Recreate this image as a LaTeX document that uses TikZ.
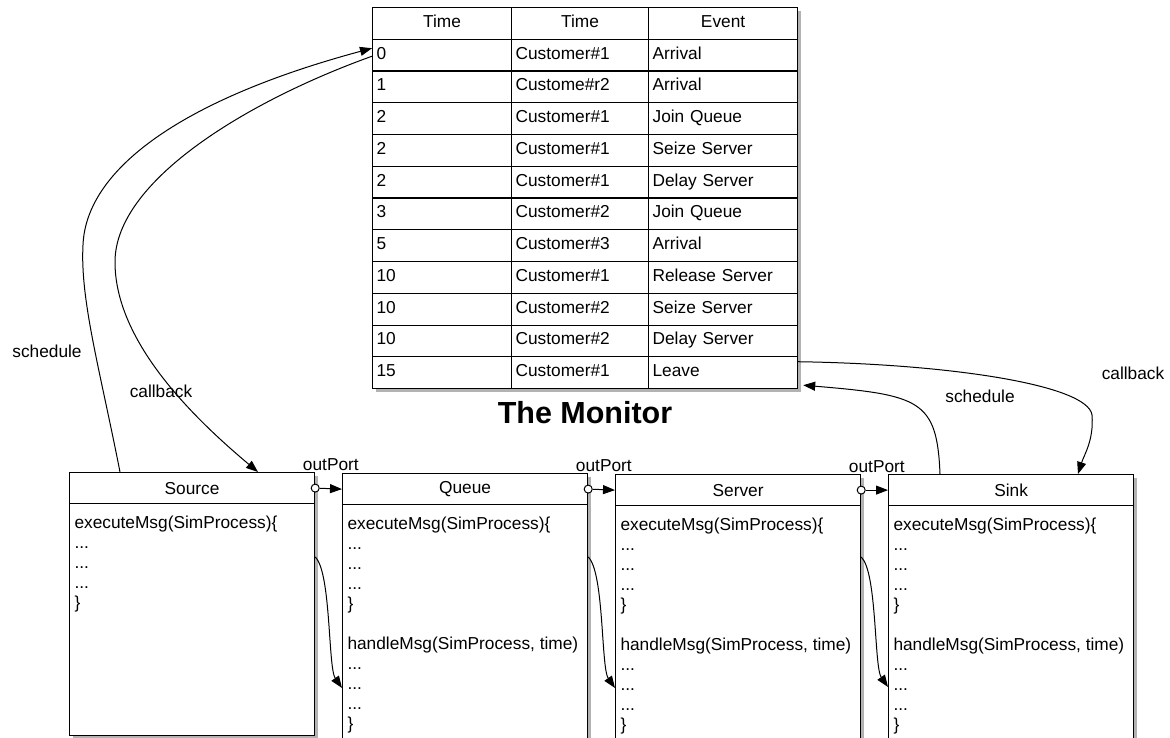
\documentclass[tikz,border=0pt]{standalone}
\usepackage{fontspec}
\setmainfont{Liberation Sans}
\usetikzlibrary{arrows.meta,shadows}

\begin{document}
\begin{tikzpicture}[x=1pt,y=-1pt,line width=1pt,
    >={Triangle[length=12pt,width=9pt]},
    font=\fontsize{17.3}{20}\selectfont,
    boxshadow/.style={drop shadow={shadow xshift=3pt,shadow yshift=-3pt,fill=black,opacity=0.3}}]
  \useasboundingbox (0,0) rectangle (1170,738);
  % the monitor table
  \node[draw,line width=1.2pt,fill=white,anchor=north west,minimum width=425pt,
        minimum height=381pt,inner sep=0pt,boxshadow] (mon) at (372,7) {};
  \begin{scope}[every node/.style={draw,line width=1.2pt,anchor=north west,minimum height=31.75pt,
        inner xsep=4pt,inner ysep=0pt,text height=12pt,text depth=4pt}]
    \node[text width=131pt,align=center] (h1) at (372,7) {Time};
    \node[text width=129pt,align=center] (h2) at (511,7) {Time};
    \node[text width=141pt,align=center] (h3) at (648,7) {Event};
    \foreach \tm/\who/\ev [count=\i] in {0/Customer\#1/Arrival, 1/Custome\#r2/Arrival,
        2/Customer\#1/Join Queue, 2/Customer\#1/Seize Server, 2/Customer\#1/Delay Server,
        3/Customer\#2/Join Queue, 5/Customer\#3/Arrival, 10/Customer\#1/Release Server,
        10/Customer\#2/Seize Server, 10/Customer\#2/Delay Server, 15/Customer\#1/Leave} {
      \node[text width=131pt,align=left] (r\i-1) at (372,7+31.75*\i) {\tm};
      \node[text width=129pt,align=left] (r\i-2) at (511,7+31.75*\i) {\who};
      \node[text width=141pt,align=left] (r\i-3) at (648,7+31.75*\i) {\ev};
    }
  \end{scope}
  \node[font=\fontsize{30.5}{36}\selectfont\bfseries] (title) at (585,413) {The Monitor};

  % the four components
  \begin{scope}[every node/.style={draw,line width=1.2pt,fill=white,anchor=north west,
        minimum width=245pt,inner sep=0pt}]
    \node[minimum height=263pt,boxshadow] (src) at (69,472) {};
    \node[minimum height=31pt] (src-h) at (69,472) {Source};
    \node[minimum height=290pt,boxshadow] (que) at (342,473) {};
    \node[minimum height=31pt] (que-h) at (342,473) {Queue};
    \node[minimum height=290pt,boxshadow] (srv) at (615,474) {};
    \node[minimum height=31pt] (srv-h) at (615,474) {Server};
    \node[minimum height=290pt,boxshadow] (snk) at (888,474) {};
    \node[minimum height=31pt] (snk-h) at (888,474) {Sink};
  \end{scope}
  \begin{scope}[every node/.style={anchor=north west,align=left,inner sep=0pt}]
    \node (src-b) at (74,515) {executeMsg(SimProcess)\{\\...\\...\\...\\\}};
    \node (que-b) at (347,516) {executeMsg(SimProcess)\{\\...\\...\\...\\\}\\[20pt]
      handleMsg(SimProcess, time)\\...\\...\\...\\\}};
    \node (srv-b) at (620,517) {executeMsg(SimProcess)\{\\...\\...\\...\\\}\\[20pt]
      handleMsg(SimProcess, time)\\...\\...\\...\\\}};
    \node (snk-b) at (893,517) {executeMsg(SimProcess)\{\\...\\...\\...\\\}\\[20pt]
      handleMsg(SimProcess, time)\\...\\...\\...\\\}};
  \end{scope}

  % ports
  \begin{scope}[every node/.style={circle,draw,fill=white,inner sep=0pt,minimum size=8pt}]
    \node (p1) at (src-h.east) {};
    \node (p2) at (que-h.east) {};
    \node (p3) at (srv-h.east) {};
  \end{scope}
  \draw[->] (p1) -- node[above=14pt] {outPort} (que-h.west);
  \draw[->] (p2) -- node[above=14pt] {outPort} (srv-h.west);
  \draw[->] (p3) -- node[above=14pt] {outPort} (snk-h.west);

  % handing on between neighbours
  \draw[->] ([yshift=-85pt]src.north east) .. controls +(16,15) and +(-14,-20) .. ([yshift=-215pt]que.north west);
  \draw[->] ([yshift=-84pt]que.north east) .. controls +(16,15) and +(-14,-20) .. ([yshift=-214pt]srv.north west);
  \draw[->] ([yshift=-83pt]srv.north east) .. controls +(16,15) and +(-14,-20) .. ([yshift=-213pt]snk.north west);

  % schedule / callback
  \draw[->] ([xshift=51pt]src.north west) .. controls (100,370) and (80,300) .. (83,245)
      .. controls (86,170) and (180,100) .. ([yshift=7pt]r1-1.west);
  \draw[->] ([yshift=-1pt]r1-1.west) .. controls (250,100) and (115,180) .. (115,262)
      .. controls (115,340) and (190,415) .. ([xshift=189pt]src.north west);
  \draw[->] ([xshift=52pt]snk.north west) .. controls (937,400) and (920,395) .. ([xshift=5pt,yshift=4pt]mon.south east);
  \draw[->] ([yshift=11pt]r11-3.east) .. controls (950,364) and (1088,385) .. (1092,415)
      .. controls (1094,440) and (1084,455) .. ([xshift=190pt]snk.north west);
  \node (sch1) at (47,351) {schedule};
  \node (cb1) at (161,391) {callback};
  \node (sch2) at (980,396) {schedule};
  \node (cb2) at (1133,373) {callback};
\end{tikzpicture}
\end{document}
